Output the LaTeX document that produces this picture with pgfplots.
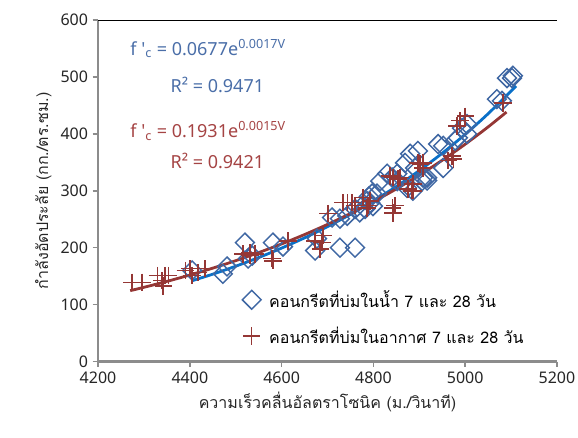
\documentclass[border=0pt]{standalone}
\usepackage{fontspec}
\setmainfont{Noto Sans}
\newfontfamily\thai[Script=Thai]{Loma}
\usepackage{pgfplots}
\pgfplotsset{compat=1.18}

\definecolor{wblue}{HTML}{3F67A3}
\definecolor{tblue}{HTML}{0A70C8}
\definecolor{ared}{HTML}{953735}
\definecolor{eqblue}{HTML}{4A6EA8}
\definecolor{eqred}{HTML}{A54444}
\definecolor{axgray}{HTML}{8C8C8C}

\begin{document}
\begin{tikzpicture}
\useasboundingbox (-73.5pt,-57pt) rectangle (359.75pt,271pt);
\begin{axis}[
    name=ax,
    scale only axis,
    width=344pt, height=256pt,
    xmin=4200, xmax=5200, ymin=0, ymax=600,
    xtick distance=200, ytick distance=100,
    axis lines=left,
    axis line style={-, axgray, line width=1.6pt},
    tick style={axgray, line width=1.2pt},
    tick align=outside,
    major tick length=4pt,
    tick label style={font=\fontsize{12}{14}\selectfont, text=black!85},
    /pgf/number format/assume math mode=true,
    /pgf/number format/1000 sep={},
    xlabel={\thai ความเร็วคลื่นอัลตราโซนิค (ม./วินาที)},
    ylabel={\thai กำลังอัดประลัย (กก./ตร.ซม.)},
    label style={font=\fontsize{12}{14}\selectfont, text=black!85},
    legend style={draw=none, fill=none, at={(rel axis cs:0.305,0.225)}, anchor=north west,
        font=\thai\fontsize{12}{14}\selectfont, row sep=9pt, column sep=4pt},
    legend cell align=left,
]
\draw[black, line width=0.6pt] (rel axis cs:0,1) -- (rel axis cs:1,1);

\addplot[only marks, mark=square, mark size=5pt, mark options={rotate=45, wblue, line width=1.1pt}] coordinates {
(4405,160) (4472,154) (4481,167) (4520,209) (4536,186) (4581,209) (4603,202) (4527,181)
(4673,195) (4677,216) (4727,200) (4760,200) (4710,253) (4727,251) (4743,256) (4760,268)
(4786,282) (4797,295) (4815,317) (4830,330) (4852,330) (4873,305) (4886,300) (4906,317)
(4917,323) (4941,382) (4880,365) (4897,370) (4869,349) (4891,340) (4908,323) (4917,318)
(4952,340) (4852,317) (4841,323) (4808,295) (4793,279) (4782,268) (4799,273) (4770,262)
(4790,290) (4984,393) (5004,400) (5091,498) (5102,498) (5104,502) (5069,461) (5080,458)
(4993,410) (5004,417) (4978,388) (4952,379)
};
\addlegendentry{คอนกรีตที่บ่มในน้ำ 7 และ 28 วัน}

\addplot[only marks, mark=+, mark size=6.5pt, mark options={ared, line width=1.1pt}] coordinates {
(4274,139) (4296,139) (4329,151) (4339,142) (4346,151) (4353,151) (4342,133) (4390,160)
(4400,163) (4405,151) (4418,156) (4433,163) (4516,189) (4531,191) (4542,189) (4531,186)
(4579,181) (4581,177) (4614,212) (4673,212) (4688,209) (4684,198) (4690,221) (4701,260)
(4734,279) (4743,279) (4753,279) (4760,274) (4788,274) (4786,270) (4836,326) (4843,323)
(4854,321) (4841,270) (4843,261) (4886,312) (4884,300) (4902,347) (4908,340) (4858,323)
(4897,349) (4908,349) (4875,303) (4886,300) (4847,274) (4963,353) (4974,356) (4777,288)
(4793,282) (4989,423) (5000,431) (4982,414) (5082,454) (4971,361)
};
\addlegendentry{คอนกรีตที่บ่มในอากาศ 7 และ 28 วัน}

% trendlines
\addplot[forget plot, smooth, tblue, line width=2.1pt] coordinates {
(4405,142) (4450,153.5) (4500,167.5) (4550,182.7) (4600,199.3) (4650,217.3) (4700,237.0)
(4750,258.6) (4800,282.0) (4850,307.6) (4900,335.5) (4950,366.0) (5000,399.2) (5050,435.4) (5111,484)
};
\addplot[forget plot, smooth, ared, line width=2.1pt] coordinates {
(4270,124.5) (4300,130.4) (4350,140.8) (4400,152.0) (4450,164.1) (4500,177.2) (4550,191.4)
(4600,206.6) (4650,223.1) (4700,240.9) (4750,260.1) (4800,280.9) (4850,303.3) (4900,327.5)
(4950,353.6) (5000,381.8) (5050,412.2) (5090,438.3)
};

\node[text=eqblue, font=\fontsize{13.5}{15}\selectfont] at (axis cs:4440,550) {f \textquotesingle\textsubscript{c} = 0.0677e\textsuperscript{0.0017V}};
\node[text=eqblue, font=\fontsize{13.5}{15}\selectfont] at (axis cs:4460,486) {R² = 0.9471};
\node[text=eqred, font=\fontsize{13.5}{15}\selectfont] at (axis cs:4440,405) {f \textquotesingle\textsubscript{c} = 0.1931e\textsuperscript{0.0015V}};
\node[text=eqred, font=\fontsize{13.5}{15}\selectfont] at (axis cs:4460,352) {R² = 0.9421};
\end{axis}
\end{tikzpicture}
\end{document}
